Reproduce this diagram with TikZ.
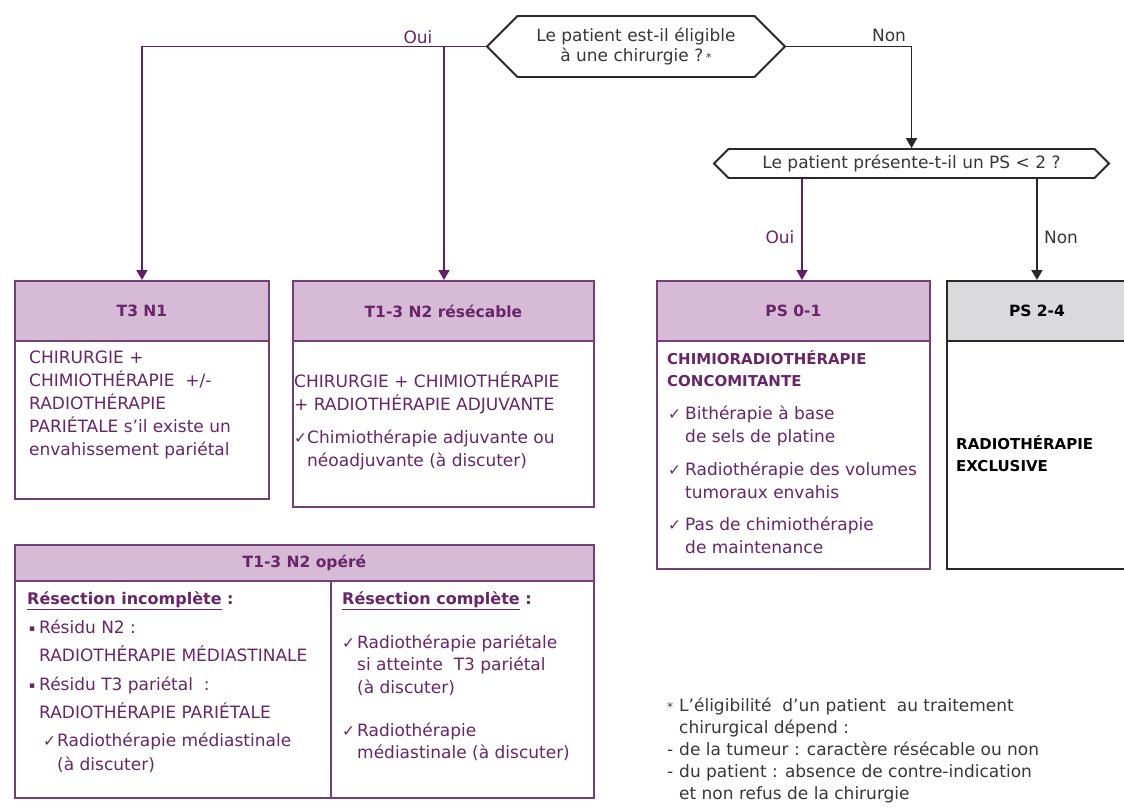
\documentclass[tikz,border=0pt]{standalone}
\usepackage{fontspec}
\setmainfont{DejaVu Sans}
\usetikzlibrary{shapes.symbols, arrows.meta, positioning, calc}

\definecolor{plumwire}{RGB}{98,32,98}
\definecolor{plumline}{RGB}{118,62,118}
\definecolor{plumfill}{RGB}{214,186,214}
\definecolor{plumtext}{RGB}{104,38,104}
\definecolor{greyfill}{RGB}{218,218,220}
\definecolor{inkline}{RGB}{40,40,40}
\definecolor{inktext}{RGB}{55,55,55}

\newcommand{\chk}[1][15pt]{\makebox[#1][l]{\fontsize{15.5}{15}\selectfont ✓}}
\newcommand{\sq}{\makebox[10pt][l]{\raisebox{2pt}{\fontsize{9}{9}\selectfont ▪}}}
\newcommand{\lh}{\rule{0pt}{16pt}}

\tikzset{
    question/.style={
        signal, signal to=west and east, signal pointer angle=90,
        draw=inkline, line width=1.8pt, fill=white,
        inner sep=0pt, align=center, text=inktext,
        font=\fontsize{17}{19.5}\selectfont
    },
    frame/.style={
        rectangle, draw=plumline, line width=1.9pt,
        fill=white, inner sep=0pt, anchor=north west
    },
    header/.style={
        rectangle, draw=plumline, line width=1.9pt,
        fill=plumfill, text=plumtext, inner sep=0pt, anchor=north west,
        font=\fontsize{15.5}{18}\selectfont\bfseries
    },
    greyheader/.style={header, draw=inkline, fill=greyfill, text=black},
    bodytext/.style={
        anchor=north west, inner sep=0pt, align=left,
        text=plumtext, font=\fontsize{17}{23}\selectfont
    },
    boldtext/.style={bodytext, font=\fontsize{15}{22}\selectfont\bfseries},
    yeswire/.style={draw=plumwire, line width=1.9pt, -{Triangle[length=10pt, width=11pt]}},
    nowire/.style={draw=inkline, line width=1.9pt, -{Triangle[length=10pt, width=11pt]}},
    yeslabel/.style={text=plumtext, inner sep=0pt, font=\fontsize{17}{20}\selectfont},
    nolabel/.style={yeslabel, text=inktext},
    splitline/.style={draw=plumline, line width=1.9pt}
}

\begin{document}
\begin{tikzpicture}[x=1pt, y=-1pt]
\useasboundingbox (0,0) rectangle (1124,808);

% Questions
\node[question, minimum width=298pt, minimum height=61pt] (elig) at (636,46.5)
    {Le patient est-il éligible\\à une chirurgie ?\,{\fontsize{11}{11}\selectfont *}};
\node[question, minimum width=395pt, minimum height=29pt] (psq) at (911.5,163.5)
    {Le patient présente-t-il un PS < 2 ?};

% Left column: operable
\node[frame, minimum width=254pt, minimum height=218pt] (t3n1) at (14,280) {};
\node[header, minimum width=254pt, minimum height=60pt] (t3n1_head) at (t3n1.north west) {T3 N1};
\node[bodytext] (t3n1_txt) at (29,347)
    {\lh CHIRURGIE +\\CHIMIOTHÉRAPIE~ +/-\\RADIOTHÉRAPIE\\PARIÉTALE s’il existe un\\envahissement pariétal};

\node[frame, minimum width=301pt, minimum height=226pt] (resec) at (292,280) {};
\node[header, minimum width=301pt, minimum height=60pt] (resec_head) at (resec.north west) {T1-3 N2 résécable};
\node[bodytext] (resec_txt) at (294,371)
    {\lh CHIRURGIE + CHIMIOTHÉRAPIE\\+ RADIOTHÉRAPIE ADJUVANTE\\[10pt]\chk[13pt]Chimiothérapie adjuvante ou\\\hspace*{13pt}néoadjuvante (à discuter)};

% Right column: not operable
\node[frame, minimum width=273pt, minimum height=288pt] (ps01) at (656,280) {};
\node[header, minimum width=273pt, minimum height=60pt] (ps01_head) at (ps01.north west) {PS 0-1};
\node[boldtext] (ps01_title) at (667,348) {\lh CHIMIORADIOTHÉRAPIE\\CONCOMITANTE};
\node[bodytext] (ps01_list) at (668,403)
    {\lh\chk[17pt]Bithérapie à base\\\hspace*{17pt}de sels de platine\\[10pt]\chk[17pt]Radiothérapie des volumes\\\hspace*{17pt}tumoraux envahis\\[9pt]\chk[17pt]Pas de chimiothérapie\\\hspace*{17pt}de maintenance};

\node[frame, draw=inkline, minimum width=180pt, minimum height=288pt] (ps24) at (946,280) {};
\node[greyheader, minimum width=180pt, minimum height=60pt] (ps24_head) at (ps24.north west) {PS 2-4};
\node[boldtext, text=black] (ps24_txt) at (956,433) {\lh RADIOTHÉRAPIE\\EXCLUSIVE};

% Bottom: operated
\node[frame, minimum width=579pt, minimum height=253pt] (opere) at (14,544) {};
\node[header, minimum width=579pt, minimum height=36pt] (opere_head) at (opere.north west) {T1-3 N2 opéré};
\coordinate (opere_split) at (331,580);
\draw[splitline] (opere_split) -- (opere_split |- opere.south);
\node[boldtext, font=\fontsize{16}{22}\selectfont\bfseries] (incomp_head) at (27,588) {\lh\underline{Résection incomplète} :};
\node[bodytext, font=\fontsize{17}{28.4}\selectfont] (incomp_list) at (29,617)
    {\lh\sq Résidu N2 :\\\hspace*{10pt}RADIOTHÉRAPIE MÉDIASTINALE\\\sq Résidu T3 pariétal~ :\\\hspace*{10pt}RADIOTHÉRAPIE PARIÉTALE\\\hspace*{14pt}\chk[14pt]Radiothérapie médiastinale\\[-4.4pt]\hspace*{28pt}(à discuter)};
\node[boldtext, font=\fontsize{16}{22}\selectfont\bfseries] (comp_head) at (342,588) {\lh\underline{Résection complète} :};
\node[bodytext, font=\fontsize{17}{22.5}\selectfont] (comp_list) at (342,632)
    {\lh\chk Radiothérapie pariétale\\\hspace*{15pt}si atteinte~ T3 pariétal\\\hspace*{15pt}(à discuter)\\[20.5pt]\chk Radiothérapie\\\hspace*{15pt}médiastinale (à discuter)};

% Footnote
\node[bodytext, text=inktext, font=\fontsize{17}{22}\selectfont] (footnote) at (667,695)
    {\lh\makebox[12pt][l]{\fontsize{12}{12}\selectfont *}L’éligibilité~ d’un patient~ au traitement\\\hspace*{12pt}chirurgical dépend :\\\makebox[12pt][l]{-}de la tumeur : caractère résécable ou non\\\makebox[12pt][l]{-}du patient : absence de contre-indication\\\hspace*{12pt}et non refus de la chirurgie};

% Connections
\coordinate (resec_in) at (444,280);
\coordinate (ps01_in) at (802,280);
\draw[yeswire] (elig.west) -| (t3n1_head.north);
\draw[yeswire] (elig.west -| resec_in) -- (resec_in);
\draw[nowire] (elig.east) -| (psq.north);
\draw[yeswire] (psq.south -| ps01_in) -- (ps01_in);
\draw[nowire] (psq.south -| ps24_head.north) -- (ps24_head.north);

% Branch labels
\node[yeslabel] (oui_top) at (418,37) {Oui};
\node[nolabel] (non_top) at (889,35) {Non};
\node[yeslabel] (oui_mid) at (780,237) {Oui};
\node[nolabel] (non_mid) at (1061,237) {Non};

\end{tikzpicture}
\end{document}
